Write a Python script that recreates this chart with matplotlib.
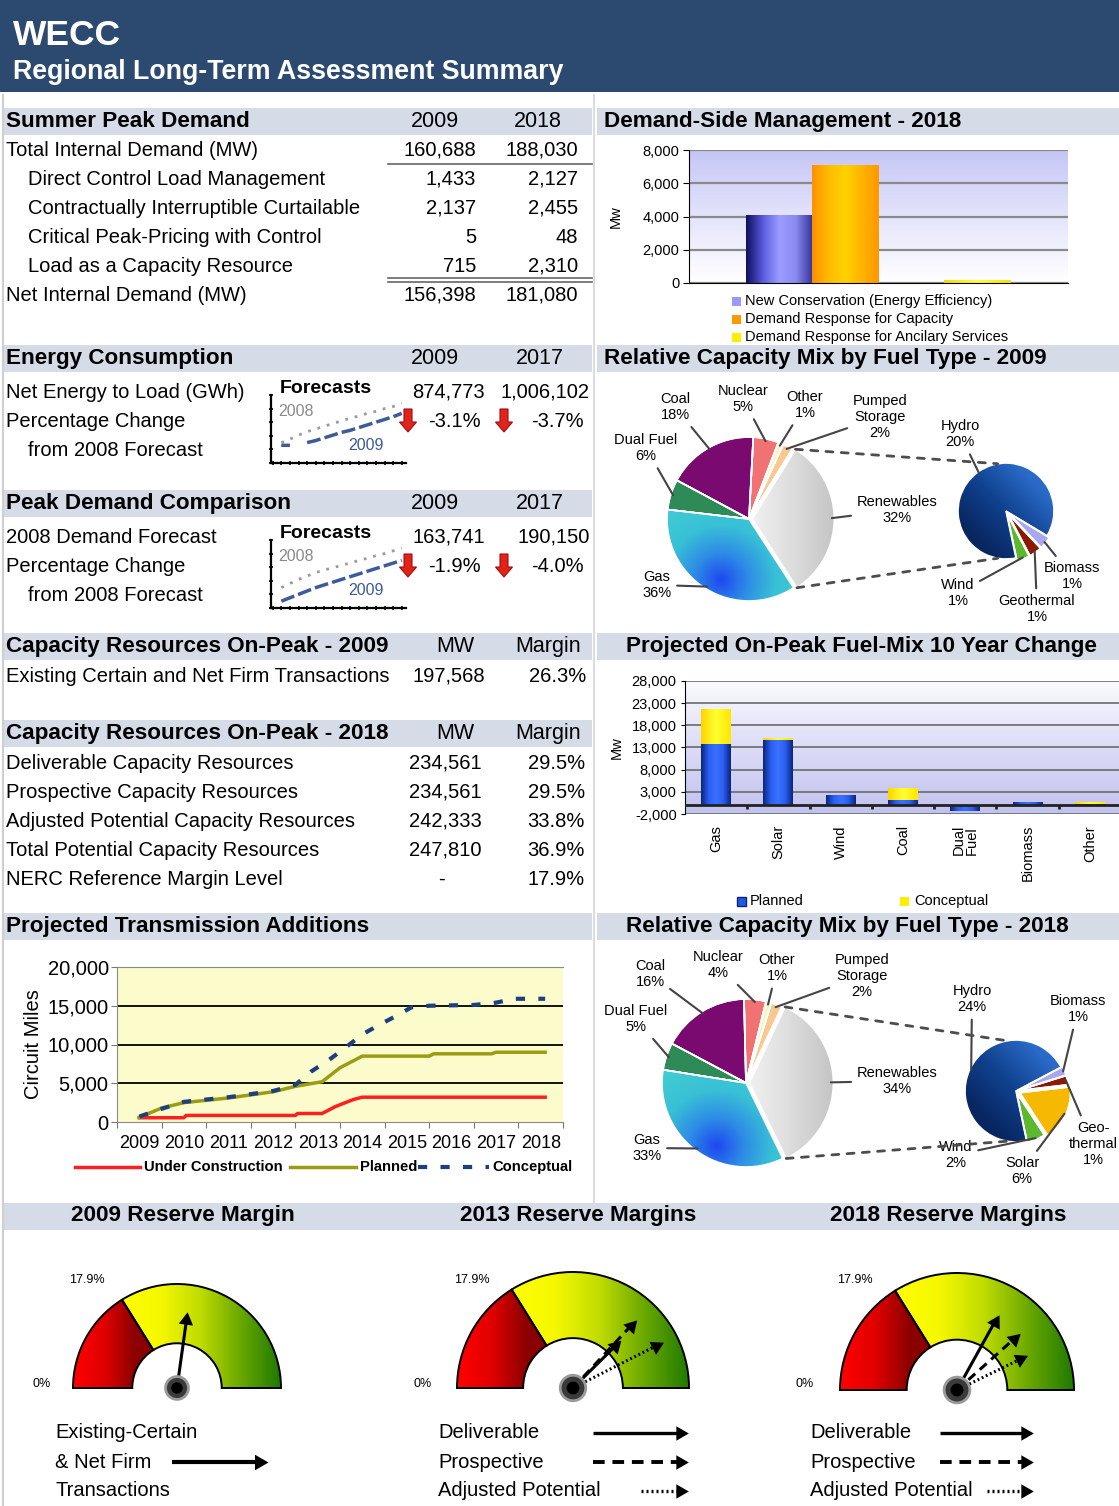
import numpy as np
import matplotlib.pyplot as plt
from matplotlib.patches import Rectangle, Wedge, Circle, ConnectionPatch, FancyArrow
from matplotlib.colors import LinearSegmentedColormap

plt.rcParams['font.family'] = ['Liberation Sans', 'DejaVu Sans']

# ---------------- data ----------------
summer_rows = ['Total Internal Demand (MW)', 'Direct Control Load Management',
               'Contractually Interruptible Curtailable', 'Critical Peak-Pricing with Control',
               'Load as a Capacity Resource', 'Net Internal Demand (MW)']
summer_2009 = [160688, 1433, 2137, 5, 715, 156398]
summer_2018 = [188030, 2127, 2455, 48, 2310, 181080]

energy_values = [874773, 1006102]
energy_change = [-3.1, -3.7]
peak_values = [163741, 190150]
peak_change = [-1.9, -4.0]

# thumbnail forecast sketches (relative units)
energy_fc_2008 = [0.30, 0.35, 0.41, 0.46, 0.50, 0.54, 0.58, 0.62, 0.66, 0.69, 0.73, 0.76, 0.80, 0.83, 0.88]
energy_fc_2009 = [0.26, 0.26, np.nan, 0.30, 0.33, 0.37, 0.41, 0.45, 0.48, 0.52, 0.56, 0.60, 0.64, 0.68, 0.73]
peak_fc_2008 = [0.30, 0.36, 0.42, 0.47, 0.52, 0.56, 0.59, 0.63, 0.66, 0.70, 0.73, 0.77, 0.80, 0.84, 0.88]
peak_fc_2009 = [0.10, 0.15, 0.20, 0.25, 0.30, 0.34, 0.38, 0.42, 0.46, 0.50, 0.54, 0.58, 0.62, 0.66, 0.70]

cap09_rows = ['Existing Certain and Net Firm Transactions']
cap09_mw = [197568]
cap09_margin = [26.3]

cap18_rows = ['Deliverable Capacity Resources', 'Prospective Capacity Resources',
              'Adjusted Potential Capacity Resources', 'Total Potential Capacity Resources',
              'NERC Reference Margin Level']
cap18_mw = [234561, 234561, 242333, 247810, None]
cap18_margin = [29.5, 29.5, 33.8, 36.9, 17.9]

dsm_labels = ['New Conservation (Energy Efficiency)', 'Demand Response for Capacity',
              'Demand Response for Ancilary Services']
dsm_values = [4120, 7095, 160]
dsm_slots = [0, 1, 3]

fuel_cats = ['Gas', 'Solar', 'Wind', 'Coal', 'Dual\nFuel', 'Biomass', 'Other']
fuel_planned = [13700, 14600, 2250, 1200, -1400, 700, 350]
fuel_conceptual = [7900, 550, 0, 2700, 300, 0, 300]

trans_years = ['2009', '2010', '2011', '2012', '2013', '2014', '2015', '2016', '2017', '2018']
uc_x = [0.5, 1.5, 1.55, 4.0, 4.05, 4.6, 4.9, 5.3, 5.5, 9.6]
uc_y = [550, 550, 850, 850, 1100, 1100, 2000, 2900, 3200, 3200]
pl_x = [0.5, 1.0, 1.5, 2.0, 2.5, 3.0, 3.5, 4.0, 4.6, 5.0, 5.5, 7.0, 7.1, 8.4, 8.5, 9.6]
pl_y = [600, 1800, 2500, 2800, 3100, 3500, 3900, 4600, 5200, 7000, 8500, 8500, 8800, 8800, 9000, 9000]
co_x = [0.5, 1.0, 1.5, 2.0, 2.5, 3.0, 3.5, 4.0, 4.35, 4.75, 5.1, 5.5, 5.9, 6.3, 6.6, 7.0, 8.0, 8.5, 8.9, 9.6]
co_y = [700, 1700, 2600, 2900, 3200, 3600, 4000, 4800, 6500, 8000, 9500, 11300, 12600, 13800,
        14800, 15000, 15100, 15400, 15900, 15900]

mix_labels = ['Renewables', 'Pumped\nStorage', 'Other', 'Nuclear', 'Coal', 'Dual Fuel', 'Gas']
mix09_pct = [32, 2, 1, 5, 18, 6, 36]
mix18_pct = [34, 2, 1, 4, 16, 5, 33]
ren09_labels = ['Wind', 'Geothermal', 'Biomass', 'Hydro']
ren09_pct = [1, 1, 1, 20]
ren18_labels = ['Wind', 'Solar', 'Geo-\nthermal', 'Biomass', 'Hydro']
ren18_pct = [2, 6, 1, 1, 24]

ref_margin = 17.9
gauge_titles = ['2009 Reserve Margin', '2013 Reserve Margins', '2018 Reserve Margins']
gauge_series = ['Deliverable', 'Prospective', 'Adjusted Potential']
# needle readings as drawn on the dials (percent)
gauge_2009 = [30.2]
gauge_2013 = [41.7, 41.0, 47.2]
gauge_2018 = [36.7, 42.6, 47.5]

# ---------------- canvas ----------------
W, H = 1119, 1506
NAVY = '#2c4a70'
BAND = '#d5dce8'
HS = 16.2      # section header
YS = 15.5      # header year columns
BS = 14.5      # body text

fig = plt.figure(figsize=(W / 100, H / 100), dpi=100)
cv = fig.add_axes([0, 0, 1, 1])
cv.set_xlim(0, W)
cv.set_ylim(H, 0)
cv.axis('off')


def box(x0, y0, x1, y1):
    ax = fig.add_axes([x0 / W, 1 - y1 / H, (x1 - x0) / W, (y1 - y0) / H])
    ax.set_facecolor('none')
    return ax


def txt(x, y, s, size=BS, ha='left', weight='normal', color='black', **kw):
    cv.text(x, y, s, fontsize=size, ha=ha, va='center', fontweight=weight, color=color, **kw)


def fill(ax, patch, colors, fn, vmin, vmax):
    t = np.linspace(-1.2, 1.2, 240)
    X, Y = np.meshgrid(t, t)
    cmap = LinearSegmentedColormap.from_list('g', colors)
    im = ax.imshow(fn(X, Y), cmap=cmap, vmin=vmin, vmax=vmax, extent=(-1.2, 1.2, -1.2, 1.2),
                   origin='lower', aspect='auto', interpolation='bilinear',
                   zorder=patch.get_zorder() + 0.01)
    im.set_clip_path(patch)


def shade_bar(ax, bar, colors):
    h = bar.get_height()
    if h == 0:
        return
    x0, y0, w = bar.get_x(), bar.get_y(), bar.get_width()
    cmap = LinearSegmentedColormap.from_list('b', colors)
    im = ax.imshow(np.linspace(0, 1, 64)[None, :], cmap=cmap, aspect='auto',
                   extent=(x0, x0 + w, min(y0, y0 + h), max(y0, y0 + h)),
                   interpolation='bilinear', zorder=bar.get_zorder() + 0.01)
    im.set_clip_path(bar)


def vgrad(ax, colors):
    cmap = LinearSegmentedColormap.from_list('v', colors)
    ax.imshow(np.linspace(0, 1, 64)[:, None], cmap=cmap, aspect='auto', extent=(0, 1, 0, 1),
              origin='lower', transform=ax.transAxes, zorder=0)


def arrow(ax, p0, p1, ls, lw=2.0, ppu=1.0, ms=11, z=4):
    # shaft drawn with its own line style, head as a solid triangle marker
    p0 = np.asarray(p0, float)
    p1 = np.asarray(p1, float)
    d = p1 - p0
    u = d / np.hypot(*d)
    ang = np.degrees(np.arctan2(d[1], d[0]))
    if ax.yaxis_inverted():
        ang = -ang
    c = p1 - u * (0.5 * ms * 100 / 72) / ppu
    ax.plot([p0[0], c[0]], [p0[1], c[1]], color='black', lw=lw, linestyle=ls,
            solid_capstyle='butt', dash_capstyle='butt', zorder=z)
    ax.plot(c[0], c[1], marker=(3, 0, ang - 90), ms=ms, color='black', mew=0, zorder=z)


# header
cv.add_patch(Rectangle((0, 0), W, 92, fc=NAVY, ec='none'))
txt(13, 35, 'WECC', 25.5, weight='bold', color='white')
txt(13, 72, 'Regional Long-Term Assessment Summary', 19.3, weight='bold', color='white')

# frame lines
cv.plot([3, 3], [95, H], color='#cfcfcf', lw=1.5)
cv.plot([594, 594], [95, 1203], color='#dcdcdc', lw=1.5)

for y0 in [108, 345, 490, 633, 720, 913]:
    cv.add_patch(Rectangle((3, y0), 589, 27, fc=BAND, ec='none'))
for y0 in [108, 345, 633, 913]:
    cv.add_patch(Rectangle((597, y0), W - 597, 27, fc=BAND, ec='none'))
cv.add_patch(Rectangle((3, 1203), W - 3, 27, fc=BAND, ec='none'))

# ---------------- summer peak demand ----------------
txt(6, 121, 'Summer Peak Demand', HS, weight='bold')
txt(435, 121, '2009', YS, ha='center')
txt(538, 121, '2018', YS, ha='center')
for i, (lab, a, b) in enumerate(zip(summer_rows, summer_2009, summer_2018)):
    y = 150 + 29 * i
    indent = 0 < i < len(summer_rows) - 1
    txt(28 if indent else 6, y, lab)
    txt(476, y, f'{a:,}', ha='right')
    txt(578, y, f'{b:,}', ha='right')
cv.plot([388, 592], [164, 164], color='#666', lw=1.2)
cv.plot([388, 592], [278, 278], color='#666', lw=1.2)
cv.plot([388, 592], [282, 282], color='#666', lw=1.2)


# ---------------- forecast blocks ----------------
def forecast_block(y_head, title, row1, values, change, fc08, fc09):
    txt(6, y_head, title, HS, weight='bold')
    txt(435, y_head, '2009', YS, ha='center')
    txt(540, y_head, '2017', YS, ha='center')
    y1 = y_head + 34
    txt(6, y1, row1)
    txt(6, y1 + 29, 'Percentage Change')
    txt(28, y1 + 58, 'from 2008 Forecast')
    txt(485, y1, f'{values[0]:,}', ha='right')
    txt(590, y1, f'{values[1]:,}', ha='right')
    txt(481, y1 + 29, f'{change[0]:.1f}%', ha='right')
    txt(584, y1 + 29, f'{change[1]:.1f}%', ha='right')
    for xa in (408, 504):
        cv.add_patch(FancyArrow(xa, y1 + 17, 0, 23, width=8, head_width=17, head_length=10,
                                length_includes_head=True, fc='#e2231a', ec='#a00d0d', lw=0.8))
    # thumbnail chart
    txt(280, y1 - 4, 'Forecasts', 14, weight='bold')
    txt(278, y1 + 19, '2008', 11.5, color='#8a8a8a')
    txt(348, y1 + 53, '2009', 11.5, color='#3b5a9a')
    ax = box(271, y1 + 3, 406, y1 + 71)
    xs = np.arange(len(fc08))
    ax.plot(xs, fc08, color='#9a9a9a', lw=2, linestyle=(0, (1, 2.5)))
    ax.plot(xs, fc09, color='#3d5a99', lw=2.5, linestyle=(0, (4, 1.2)))
    ax.set_xlim(-1.2, len(fc08) - 0.5)
    ax.set_ylim(0, 1)
    for s in ('top', 'right'):
        ax.spines[s].set_visible(False)
    for s in ('left', 'bottom'):
        ax.spines[s].set_linewidth(1.6)
    ax.set_xticks(np.arange(-1, len(fc08)))
    ax.set_yticks(np.linspace(0, 1, 6))
    ax.tick_params(length=3, direction='inout', labelbottom=False, labelleft=False, width=1.2)


forecast_block(358, 'Energy Consumption', 'Net Energy to Load (GWh)', energy_values,
               energy_change, energy_fc_2008, energy_fc_2009)
forecast_block(503, 'Peak Demand Comparison', '2008 Demand Forecast', peak_values,
               peak_change, peak_fc_2008, peak_fc_2009)

# ---------------- capacity resources ----------------
txt(6, 646, 'Capacity Resources On-Peak - 2009', HS, weight='bold')
txt(455, 646, 'MW', YS, ha='center')
txt(548, 646, 'Margin', YS, ha='center')
for i, (lab, mw, mg) in enumerate(zip(cap09_rows, cap09_mw, cap09_margin)):
    y = 676 + 29 * i
    txt(6, y, lab)
    txt(485, y, f'{mw:,}', ha='right')
    txt(586, y, f'{mg:.1f}%', ha='right')

txt(6, 733, 'Capacity Resources On-Peak - 2018', HS, weight='bold')
txt(455, 733, 'MW', YS, ha='center')
txt(548, 733, 'Margin', YS, ha='center')
for i, (lab, mw, mg) in enumerate(zip(cap18_rows, cap18_mw, cap18_margin)):
    y = 763 + 29 * i
    txt(6, y, lab)
    if mw is None:
        txt(441, y, '-', ha='center')
    else:
        txt(482, y, f'{mw:,}', ha='right')
    txt(585, y, f'{mg:.1f}%', ha='right')

# ---------------- transmission additions ----------------
txt(6, 926, 'Projected Transmission Additions', HS, weight='bold')
ax = box(117, 967, 563, 1122)
ax.set_facecolor('#fbfbcb')
for v in (5000, 10000, 15000):
    ax.axhline(v, color='black', lw=1.3, zorder=1)
ax.plot(uc_x, uc_y, color='#ff1f1f', lw=2.5, zorder=3)
ax.plot(pl_x, pl_y, color='#9c9c14', lw=2.5, zorder=3)
ax.plot(co_x, co_y, color='#1d3f80', lw=3, linestyle=(0, (2.2, 3.2)), zorder=4)
ax.set_xlim(0, 10)
ax.set_ylim(0, 20000)
ax.set_yticks(range(0, 20001, 5000))
ax.set_yticklabels([f'{v:,}' for v in range(0, 20001, 5000)])
ax.set_xticks(range(11))
ax.set_xticklabels([])
ax.set_xticks(np.arange(10) + 0.5, minor=True)
ax.set_xticklabels(trans_years, minor=True)
ax.tick_params(axis='x', which='minor', length=0, labelsize=13, pad=9)
ax.tick_params(axis='x', which='major', length=4, color='#777')
ax.tick_params(axis='y', labelsize=14.5, length=4, color='#777', pad=2)
for s in ax.spines.values():
    s.set_color('#8a8a8a')
ax.spines['right'].set_visible(False)
ax.set_ylabel('Circuit Miles', fontsize=BS, labelpad=3)

cv.plot([75, 140], [1167, 1167], color='#ff1f1f', lw=2.5)
txt(144, 1167, 'Under Construction', 10.6, weight='bold')
cv.plot([290, 356], [1167, 1167], color='#9c9c14', lw=2.5)
txt(360, 1167, 'Planned', 10.6, weight='bold')
cv.plot([418, 489], [1167, 1167], color='#1d3f80', lw=3, linestyle=(0, (2.2, 3.2)))
txt(492, 1167, 'Conceptual', 10.6, weight='bold')

# ---------------- demand-side management ----------------
txt(604, 121, 'Demand-Side Management - 2018', HS, weight='bold')
ax = box(689, 150, 1068, 283)
vgrad(ax, ['#ffffff', '#e4e4fb', '#c6c6f6'])
ax.set_yticks(range(0, 8001, 2000))
ax.yaxis.grid(True, color='#8a8a8a', lw=1.6, zorder=1)
ax.set_axisbelow(True)
bar_cols = [['#101060', '#5a5ae0', '#9d9dff', '#8a8af0', '#34349a'],
            ['#ff9000', '#ffbd00', '#ffd200', '#ffb400', '#ff9800'],
            ['#ffd800', '#ffff40', '#ffe000']]
solid = ['#9999ff', '#ff9900', '#ffee00']
bars = ax.bar(dsm_slots, dsm_values, width=1, color=solid, zorder=2)
for b, c in zip(bars, bar_cols):
    shade_bar(ax, b, c)
ax.set_xlim(-1.36, 4.37)
ax.set_ylim(0, 8000)
ax.set_xticks([])
ax.set_yticklabels([f'{v:,}' for v in range(0, 8001, 2000)])
ax.tick_params(axis='y', labelsize=10.5, length=4, pad=3)
for s in ('top', 'right'):
    ax.spines[s].set_visible(False)
ax.set_ylabel('Mw', fontsize=10.5, labelpad=14)
for i, (lab, c) in enumerate(zip(dsm_labels, solid)):
    y = 301 + 18 * i
    cv.add_patch(Rectangle((732, y - 4.5), 9, 9, fc=c, ec='none'))
    txt(745, y, lab, 10.5)

# ---------------- fuel mix change ----------------
txt(626, 646, 'Projected On-Peak Fuel-Mix 10 Year Change', HS, weight='bold')
ax = box(685, 681, 1121, 814)
vgrad(ax, ['#c2c2ee', '#dcdcf6', '#fafaff'])
ticks = list(range(-2000, 28001, 5000))
for v in ticks:
    ax.axhline(v, color='#6a6a6a', lw=1.2, zorder=1)
xs = np.arange(len(fuel_cats))
pb = ax.bar(xs, fuel_planned, width=0.48, color='#2457e0', zorder=2)
cb = ax.bar(xs, fuel_conceptual, width=0.48, bottom=np.maximum(fuel_planned, 0),
            color='#ffee00', zorder=2)
for b in pb:
    shade_bar(ax, b, ['#0a2580', '#2a5ef0', '#3a72ff', '#2a5ef0', '#0a2580'])
for b in cb:
    shade_bar(ax, b, ['#ffd400', '#ffff30', '#ffe600'])
ax.axhline(0, color='#222', lw=2, zorder=3)
ax.vlines(np.arange(len(fuel_cats) - 1) + 0.5, -900, 0, color='#222', lw=2, zorder=3)
ax.set_xlim(-0.5, len(fuel_cats) - 0.5)
ax.set_ylim(-2000, 28000)
ax.set_yticks(ticks)
ax.set_yticklabels([f'{v:,}' for v in ticks])
ax.set_xticks(xs)
ax.set_xticklabels(fuel_cats, rotation=90, va='top', ha='center', linespacing=0.95)
ax.tick_params(axis='x', length=0, labelsize=10.5, pad=8)
ax.tick_params(axis='y', labelsize=10.5, length=3, pad=3)
for s in ('top', 'right', 'bottom'):
    ax.spines[s].set_visible(False)
ax.set_ylabel('Mw', fontsize=10.5, labelpad=6)
cv.add_patch(Rectangle((737, 896.5), 9, 9, fc='#2457e0', ec='#0a2580'))
txt(750, 901, 'Planned', 10.5)
cv.add_patch(Rectangle((900, 896.5), 9, 9, fc='#ffee00', ec='none'))
txt(914, 901, 'Conceptual', 10.5)

# ---------------- pies ----------------
mix_colors = ['#d0d0d0', '#f8c890', '#fff2b8', '#f07272', '#7a0a70', '#2e8b57', '#34b4d8']
ren_color = {'Wind': '#5cb82c', 'Geothermal': '#8b1a00', 'Geo-\nthermal': '#8b1a00',
             'Biomass': '#a8a8f0', 'Hydro': '#103a80', 'Solar': '#f6b800'}
PL = 1.25


def pie_axes(cx, cy, r):
    return box(cx - r * PL, cy - r * PL, cx + r * PL, cy + r * PL)


def fuel_pie(ax, vals, colors, start, explode, labels, spots, shades):
    wedges, _ = ax.pie(vals, colors=colors, startangle=start, explode=explode,
                       wedgeprops=dict(edgecolor='white', linewidth=1.2))
    for i, (cols, fn, lo, hi) in shades.items():
        fill(ax, wedges[i], cols, fn, lo, hi)
    ax.pie(vals, startangle=start, explode=explode,
           wedgeprops=dict(fill=False, edgecolor='white', linewidth=1.2, zorder=3))
    for w, lab, v, (px, py) in zip(wedges, labels, vals, spots):
        th = np.radians((w.theta1 + w.theta2) / 2)
        cx, cy = w.center
        ax.annotate(f'{lab}\n{v}%', xy=(cx + 0.97 * w.r * np.cos(th), cy + 0.97 * w.r * np.sin(th)),
                    xytext=(px, H - py), textcoords='figure pixels', ha='center', va='center',
                    fontsize=10.5, linespacing=1.2, zorder=6,
                    arrowprops=dict(arrowstyle='-', color='#444', lw=1.5, shrinkA=2, shrinkB=0))
    ax.set_xlim(-PL, PL)
    ax.set_ylim(-PL, PL)
    ax.set_aspect('equal')
    return wedges


def main_shades():
    return {0: (['#f6f6f6', '#dedede', '#c2c2c2'], lambda X, Y: X, -0.1, 1.1),
            6: (['#1e48f0', '#2e8ce6', '#38c0d6', '#40cad2'], lambda X, Y: np.hypot(X + 0.35, Y + 0.75), 0, 1.0)}


hydro_shade = (['#082660', '#10418e', '#2a6ac8'], lambda X, Y: X + Y, -1.2, 1.2)


def link(axA, wedge, theta, axB):
    cx, cy = wedge.center
    pA = (cx + wedge.r * np.cos(np.radians(theta)), cy + wedge.r * np.sin(np.radians(theta)))
    sgn = 1 if theta == wedge.theta2 else -1
    pB = (np.cos(np.radians(sgn * 100)), np.sin(np.radians(sgn * 100)))
    con = ConnectionPatch(xyA=pA, coordsA='data', axesA=axA, xyB=pB, coordsB='data', axesB=axB,
                          color='#4d4d4d', lw=2, linestyle=(0, (2.5, 3)))
    fig.add_artist(con)


def mix_block(title, title_x, y_head, main_c, main_r, main_pct, main_spots, start,
              sub_c, sub_r, sub_labels, sub_pct, sub_spots, sub_start, sub_explode):
    txt(title_x, y_head, title, HS, weight='bold')
    ax_m = pie_axes(*main_c, main_r)
    wm = fuel_pie(ax_m, main_pct, mix_colors, start, [0.04, 0, 0, 0, 0, 0, 0],
                  mix_labels, main_spots, main_shades())
    ax_s = pie_axes(*sub_c, sub_r)
    hi = len(sub_labels) - 1
    fuel_pie(ax_s, sub_pct, [ren_color[k] for k in sub_labels], sub_start, sub_explode,
             sub_labels, sub_spots, {hi: hydro_shade})
    link(ax_m, wm[0], wm[0].theta2, ax_s)
    link(ax_m, wm[0], wm[0].theta1, ax_s)


mix_block('Relative Capacity Mix by Fuel Type - 2009', 604, 358, (749, 519), 82, mix09_pct,
          [(897, 510), (880, 417), (805, 405), (743, 399), (675, 407), (646, 448), (657, 585)],
          -57, (1006, 511), 48, ren09_labels, ren09_pct,
          [(958, 593), (1037, 609), (1072, 576), (960, 434)], -78, [0.06, 0.06, 0.06, 0])
mix_block('Relative Capacity Mix by Fuel Type - 2018', 626, 926, (746, 1083), 84, mix18_pct,
          [(897, 1081), (862, 976), (777, 968), (718, 965), (650, 974), (636, 1019), (647, 1148)],
          -64, (1016, 1091), 51, ren18_labels, ren18_pct,
          [(956, 1155), (1022, 1171), (1093, 1144), (1078, 1009), (972, 999)], -78,
          [0.03, 0.08, 0.03, 0.03, 0])

# ---------------- reserve margin gauges ----------------
GAUGE_MAX = 55.5


def gang(v):
    return 180 * (1 - v / GAUGE_MAX)


styles = ['-', (0, (3, 2)), (0, (0.6, 0.9))]


def gauge(cx, cy, R, readings, lengths, title, title_x, legend_x, arrow_x):
    txt(title_x, 1216, title, HS, weight='bold', ha='center')
    ax = box(cx - 1.35 * R, cy - 1.1 * R, cx + 1.35 * R, cy + 0.3 * R)
    a_ref = gang(ref_margin)
    red = Wedge((0, 0), 1, a_ref, 180, width=0.57, fc='#d00000', ec='none', zorder=1)
    grn = Wedge((0, 0), 1, 0, a_ref, width=0.57, fc='#b0d000', ec='none', zorder=1)
    ax.add_patch(red)
    ax.add_patch(grn)
    fill(ax, red, ['#ff0000', '#e00000', '#8a0000'], lambda X, Y: X, -1, -0.4)
    fill(ax, grn, ['#ffff00', '#f6f800', '#c0dc00', '#6aa800', '#1f7a00'], lambda X, Y: X, -0.55, 1)
    for a0, a1 in ((a_ref, 180), (0, a_ref)):
        ax.add_patch(Wedge((0, 0), 1, a0, a1, width=0.57, fill=False, ec='black', lw=1.4, zorder=3))
    for k, (v, L) in enumerate(zip(readings, lengths)):
        th = np.radians(gang(v))
        arrow(ax, (0, 0), (L * np.cos(th), L * np.sin(th)), styles[k], lw=2.2, ppu=R, ms=12)
    ax.add_patch(Circle((0, 0), 0.11, fc='#3a3a3a', ec='#9a9a9a', lw=2, zorder=5))
    ax.add_patch(Circle((0, 0), 0.055, fc='black', ec='none', zorder=6))
    ax.set_xlim(-1.35, 1.35)
    ax.set_ylim(-0.3, 1.1)
    ax.set_aspect('equal')
    ax.axis('off')
    txt(cx - 0.87 * R, 1280, f'{ref_margin}%', 9, ha='center')
    txt(cx - 1.3 * R, 1384, '0%', 9, ha='center')
    if len(readings) > 1:
        for k, lab in enumerate(gauge_series):
            y = 1433 + 29 * k
            txt(legend_x, y, lab)
            x0 = arrow_x[0] if k < 2 else arrow_x[0] + 0.5 * (arrow_x[1] - arrow_x[0])
            arrow(cv, (x0, y), (arrow_x[1], y), styles[k], lw=2.8 if k == 1 else 2.4, ms=12)
    else:
        for k, lab in enumerate(['Existing-Certain', '& Net Firm', 'Transactions']):
            txt(legend_x, 1433 + 29 * k, lab)
        arrow(cv, (arrow_x[0], 1462), (arrow_x[1], 1462), '-', lw=3, ms=13)


gauge(177, 1388, 104, gauge_2009, [0.74], gauge_titles[0], 183, 55, (172, 268))
gauge(573, 1388, 116, gauge_2013, [0.58, 0.8, 0.87], gauge_titles[1], 578, 438, (593, 688))
gauge(957, 1390, 117, gauge_2018, [0.74, 0.72, 0.67], gauge_titles[2], 948, 810, (940, 1033))

fig.savefig('out.png', dpi=100)
